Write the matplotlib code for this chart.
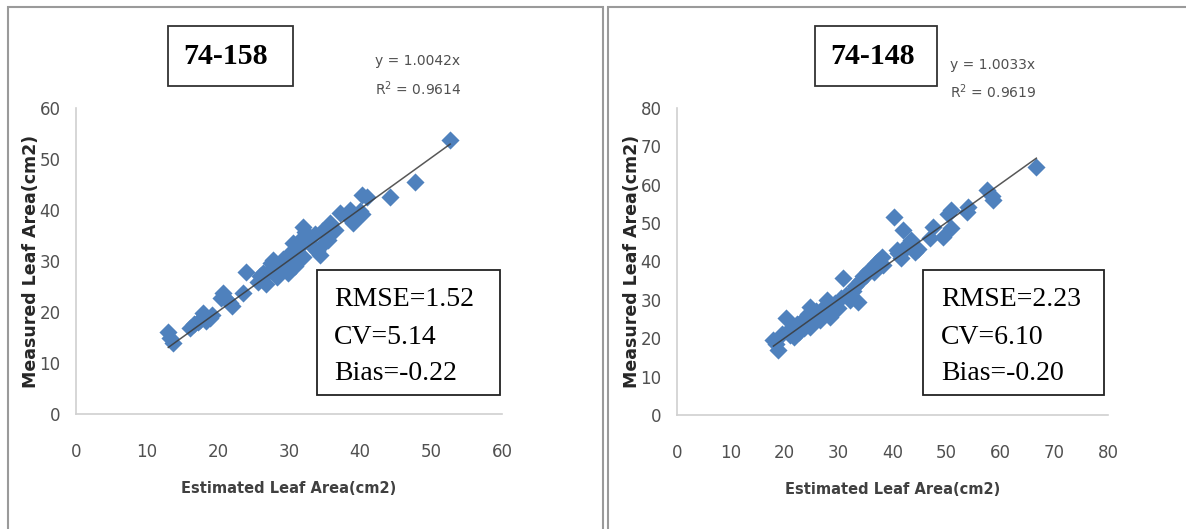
import matplotlib
matplotlib.use("Agg")
import matplotlib.pyplot as plt
from matplotlib.patches import Rectangle
import numpy as np

# ---------------- data ----------------
# Panel 1: 74-158
est_158 = [13.0, 13.3, 13.6, 16.0, 16.6, 17.2, 17.5, 17.9, 18.3, 18.9, 19.2,
           20.4, 20.7, 21.2, 21.7, 22.0, 23.5, 24.0, 25.6, 25.9, 26.4, 26.8,
           27.2, 27.5, 27.8, 28.3, 28.6, 29.2, 29.6, 29.9, 30.2, 30.4, 30.6,
           30.9, 31.2, 31.5, 31.8, 32.0, 32.0, 32.3, 32.7, 33.2, 33.6, 34.0,
           34.3, 34.6, 34.9, 35.3, 35.5, 35.8, 36.5, 37.2, 38.2, 38.6, 39.0,
           39.4, 40.0, 40.3, 40.3, 41.0, 44.2, 47.7, 52.7]
meas_158 = [16.1, 15.0, 13.9, 16.8, 17.6, 18.0, 18.4, 19.8, 18.2, 18.8, 19.5,
            22.8, 23.7, 22.4, 21.7, 21.2, 23.7, 27.8, 25.9, 27.0, 27.6, 25.5,
            28.0, 29.6, 30.2, 26.9, 29.0, 30.4, 28.6, 27.6, 31.2, 32.0, 33.5,
            29.0, 32.6, 33.8, 34.5, 36.7, 30.8, 35.6, 34.0, 33.0, 35.2, 32.0,
            31.2, 35.8, 33.6, 36.2, 34.1, 37.4, 36.0, 39.4, 38.8, 40.0, 37.4,
            38.2, 39.8, 43.0, 39.2, 42.6, 42.6, 45.5, 53.7]
slope_158 = 1.0042

# Panel 2: 74-148
est_148 = [17.9, 18.4, 18.8, 19.4, 20.3, 20.6, 20.9, 21.3, 21.7, 22.2, 22.6,
           23.0, 23.5, 23.9, 24.3, 24.7, 24.7, 25.2, 25.8, 26.5, 26.9, 27.4,
           27.8, 28.4, 28.8, 29.3, 29.8, 30.5, 30.9, 31.4, 32.1, 32.6, 33.0,
           33.6, 34.0, 34.5, 35.0, 35.5, 36.1, 36.6, 37.0, 37.4, 38.0, 38.3,
           40.2, 40.9, 41.1, 41.6, 42.0, 42.3, 42.8, 43.5, 44.1, 44.8, 46.9,
           47.6, 49.4, 50.3, 50.9, 50.9, 53.8, 54.1, 57.5, 58.4, 58.7, 66.7]
meas_148 = [19.5, 18.6, 16.9, 21.0, 25.2, 21.8, 20.9, 22.6, 20.4, 23.6, 21.6,
            24.2, 22.8, 25.6, 26.4, 28.2, 23.0, 25.4, 27.0, 24.7, 26.6, 28.4,
            30.0, 25.5, 27.4, 29.2, 28.0, 30.6, 35.6, 31.4, 30.0, 32.2, 33.6,
            29.5, 35.0, 36.3, 36.6, 37.4, 38.0, 37.2, 39.6, 40.2, 41.2, 39.0,
            51.7, 43.0, 42.2, 41.0, 48.2, 43.3, 44.6, 45.6, 42.6, 43.3, 46.0,
            49.0, 46.4, 52.5, 53.3, 48.6, 52.9, 54.2, 58.6, 57.0, 56.0, 64.7]
slope_148 = 1.0033

panels = [
    dict(title="74-158", x=est_158, y=meas_158, slope=slope_158, r2="0.9614",
         lim=60, stats=["RMSE=1.52", "CV=5.14", "Bias=-0.22"]),
    dict(title="74-148", x=est_148, y=meas_148, slope=slope_148, r2="0.9619",
         lim=80, stats=["RMSE=2.23", "CV=6.10", "Bias=-0.20"]),
]

# ---------------- layout (pixel-based) ----------------
W, H = 1186, 529
fig = plt.figure(figsize=(W / 100, H / 100), dpi=100)
fig.patch.set_facecolor("white")

def fx(px):
    return px / W

def fy(py):
    return 1 - py / H

sans = ["Liberation Sans Narrow", "DejaVu Sans"]
serif = ["Liberation Serif", "DejaVu Serif"]

layout = [
    dict(frame=(8, 7, 603), ax=(76, 108, 502, 414), tbox=(168, 26, 293, 86), ttext=226,
         eq=(375, 61, 89), sbox=(317, 270, 500, 395), stext=334),
    dict(frame=(608, 7, 1190), ax=(677, 108, 1108, 415), tbox=(815, 26, 937, 86), ttext=873,
         eq=(950, 65, 92), sbox=(923, 270, 1104, 395), stext=941),
]

blue = "#4F81BD"

for p, L in zip(panels, layout):
    # panel frame
    fl, ft, fr = L["frame"]
    fig.add_artist(Rectangle((fx(fl), fy(H + 10)), fx(fr) - fx(fl), fy(ft) - fy(H + 10),
                             transform=fig.transFigure, fill=False,
                             edgecolor="#9a9a9a", linewidth=1.5))

    x0, y0, x1, y1 = L["ax"]
    ax = fig.add_axes([fx(x0), fy(y1), fx(x1) - fx(x0), fy(y0) - fy(y1)])
    ax.set_xlim(0, p["lim"])
    ax.set_ylim(0, p["lim"])
    ticks = np.arange(0, p["lim"] + 1, 10)
    ax.set_xticks(ticks)
    ax.set_yticks(ticks)
    ax.set_xticklabels([str(t) for t in ticks])
    ax.set_yticklabels([str(t) for t in ticks])
    for s in ["top", "right"]:
        ax.spines[s].set_visible(False)
    for s in ["left", "bottom"]:
        ax.spines[s].set_color("#d0d0d0")
        ax.spines[s].set_linewidth(1.2)
    ax.tick_params(axis="both", length=0, labelcolor="#505050", labelsize=12)
    ax.tick_params(axis="x", pad=21)
    ax.tick_params(axis="y", pad=11)
    for lab in ax.get_xticklabels() + ax.get_yticklabels():
        lab.set_family(sans)

    ax.scatter(p["x"], p["y"], marker="D", s=85, color=blue, linewidths=0, zorder=2)
    xs = np.array([min(p["x"]), max(p["x"])])
    ax.plot(xs, p["slope"] * xs, color="#3a3a3a", linewidth=1.1, zorder=3, alpha=0.85)

    ax.set_xlabel("Estimated Leaf Area(cm2)", family=sans, fontweight="bold",
                  fontsize=10.5, color="#404040", labelpad=14)
    ax.set_ylabel("Measured Leaf Area(cm2)", family=["DejaVu Sans"], fontweight="bold",
                  fontsize=12.5, color="#262626", labelpad=0)

    # title box
    bl, bt, br, bb = L["tbox"]
    fig.add_artist(Rectangle((fx(bl), fy(bb)), fx(br) - fx(bl), fy(bt) - fy(bb),
                             transform=fig.transFigure, fill=False,
                             edgecolor="#333333", linewidth=1.3))
    fig.text(fx(L["ttext"]), fy(56), p["title"], family=serif, fontweight="bold",
             fontsize=21.5, ha="center", va="center", color="black")

    # equation
    ex, ey1, ey2 = L["eq"]
    fig.text(fx(ex), fy(ey1), "y = %.4fx" % p["slope"],
             family=sans, fontsize=10, color="#505050", ha="left", va="center")
    fig.text(fx(ex), fy(ey2), "R$^2$ = " + p["r2"],
             family=sans, fontsize=10, color="#505050", ha="left", va="center")

    # stats box
    sl, st, sr, sb = L["sbox"]
    fig.add_artist(Rectangle((fx(sl), fy(sb)), fx(sr) - fx(sl), fy(st) - fy(sb),
                             transform=fig.transFigure, fill=False,
                             edgecolor="#222222", linewidth=1.3))
    for line, yy in zip(p["stats"], [300, 337, 373]):
        fig.text(fx(L["stext"]), fy(yy), line, family=serif, fontsize=20,
                 ha="left", va="center", color="black")

fig.savefig("out.png", dpi=100, facecolor="white")
